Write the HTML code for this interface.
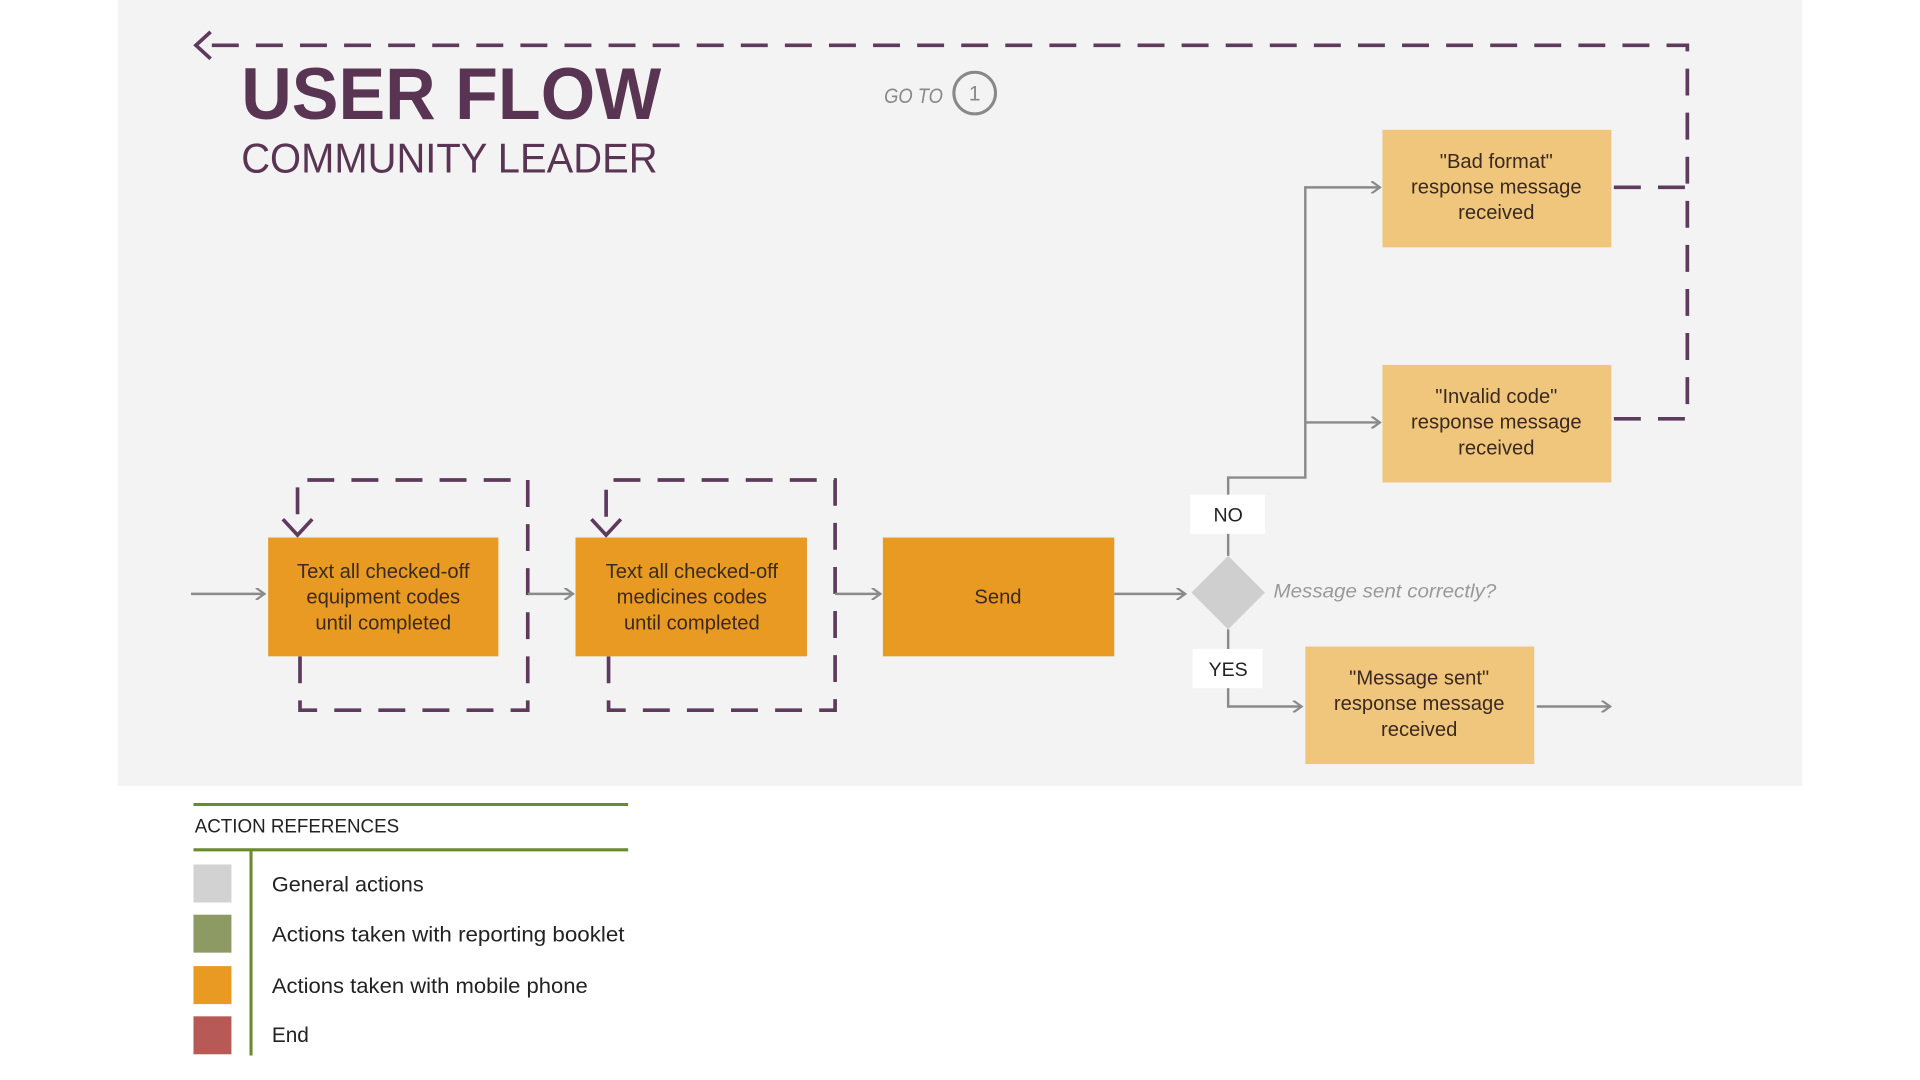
<!DOCTYPE html>
<html><head><meta charset="utf-8"><style>
html,body{margin:0;padding:0;background:#fff;}
svg{display:block;}
text{font-family:"Liberation Sans",sans-serif;}
</style></head><body>
<svg width="1920" height="1080" viewBox="0 0 1568 882" xmlns="http://www.w3.org/2000/svg">
<defs>
<marker id="ah" markerWidth="10" markerHeight="10" refX="8" refY="5" orient="auto" markerUnits="userSpaceOnUse">
<path d="M1,0 L8,5 L1,10" fill="none" stroke="#8a8a8a" stroke-width="1.8"/>
</marker>
</defs>
<rect x="0" y="0" width="1568" height="882" fill="#fff"/>
<rect x="96" y="0" width="1376" height="642" fill="#f4f3f4"/>

<g fill="none" stroke="#5e3b5c" stroke-width="3" stroke-dasharray="22,14">
<path d="M1318,342 L1378,342 L1378,37 L170,37"/>
<path d="M1318,153 L1378,153"/>
<path d="M245,536 L245,580 L431,580 L431,392 L243,392 L243,434"/>
<path d="M497,536 L497,580 L682,580 L682,392 L495,392 L495,434"/>
</g>
<g fill="none" stroke="#5e3b5c" stroke-width="3">
<path d="M172,26 L160,37 L172,48"/>
<path d="M231,424 L243,437 L255,424"/>
<path d="M483,424 L495,437 L507,424"/>
</g>

<text x="197" y="97" font-size="60" font-weight="bold" fill="#5a3553" textLength="343" lengthAdjust="spacingAndGlyphs">USER FLOW</text>
<text x="197" y="141" font-size="34" fill="#5a3553" textLength="340" lengthAdjust="spacingAndGlyphs">COMMUNITY LEADER</text>
<text x="722" y="84" font-size="17" font-style="italic" fill="#888" textLength="48" lengthAdjust="spacingAndGlyphs">GO TO</text>
<circle cx="796" cy="76" r="17" fill="none" stroke="#888" stroke-width="2.5"/>
<text x="796" y="82" font-size="17" fill="#888" text-anchor="middle">1</text>

<g fill="none" stroke="#8a8a8a" stroke-width="2">
<path d="M156,485 L216,485" marker-end="url(#ah)"/>
<path d="M431,485 L468,485" marker-end="url(#ah)"/>
<path d="M682,485 L719,485" marker-end="url(#ah)"/>
<path d="M910,485 L968,485" marker-end="url(#ah)"/>
<path d="M1003,454 L1003,390 L1066,390 L1066,153 L1127,153" marker-end="url(#ah)"/>
<path d="M1066,345 L1127,345" marker-end="url(#ah)"/>
<path d="M1003,514 L1003,577 L1063,577" marker-end="url(#ah)"/>
<path d="M1255,577 L1315,577" marker-end="url(#ah)"/>
</g>

<g font-size="16.5" fill="#3a2a20" text-anchor="middle">
<rect x="219" y="439" width="188" height="97" fill="#e89a22"/>
<text x="313" y="472">Text all checked-off</text>
<text x="313" y="493">equipment codes</text>
<text x="313" y="514">until completed</text>
<rect x="470" y="439" width="189" height="97" fill="#e89a22"/>
<text x="565" y="472">Text all checked-off</text>
<text x="565" y="493">medicines codes</text>
<text x="565" y="514">until completed</text>
<rect x="721" y="439" width="189" height="97" fill="#e89a22"/>
<text x="815" y="493">Send</text>
<rect x="1129" y="106" width="187" height="96" fill="#f0c67c"/>
<text x="1222" y="137">"Bad format"</text>
<text x="1222" y="158">response message</text>
<text x="1222" y="179">received</text>
<rect x="1129" y="298" width="187" height="96" fill="#f0c67c"/>
<text x="1222" y="329">"Invalid code"</text>
<text x="1222" y="350">response message</text>
<text x="1222" y="371">received</text>
<rect x="1066" y="528" width="187" height="96" fill="#f0c67c"/>
<text x="1159" y="559">"Message sent"</text>
<text x="1159" y="580">response message</text>
<text x="1159" y="601">received</text>
</g>
<polygon points="1003,454 1033,484 1003,514 973,484" fill="#d0cfcf"/>
<text x="1040" y="488" font-size="16" font-style="italic" fill="#999" textLength="182" lengthAdjust="spacingAndGlyphs">Message sent correctly?</text>
<rect x="972" y="404" width="61" height="32" fill="#fff"/>
<text x="1003" y="426" font-size="16" fill="#222" text-anchor="middle">NO</text>
<rect x="974" y="530" width="57" height="32" fill="#fff"/>
<text x="1003" y="552" font-size="16" fill="#222" text-anchor="middle">YES</text>

<line x1="158" y1="657" x2="513" y2="657" stroke="#6a8a2e" stroke-width="2.5"/>
<text x="159" y="680" font-size="16" fill="#222" textLength="167" lengthAdjust="spacingAndGlyphs">ACTION REFERENCES</text>
<line x1="158" y1="694" x2="513" y2="694" stroke="#6a8a2e" stroke-width="2.5"/>
<line x1="205" y1="694" x2="205" y2="862" stroke="#6a8a2e" stroke-width="2.5"/>
<rect x="158" y="706" width="31" height="31" fill="#d3d2d2"/>
<rect x="158" y="747" width="31" height="31" fill="#8e9a63"/>
<rect x="158" y="789" width="31" height="31" fill="#e89a22"/>
<rect x="158" y="830" width="31" height="31" fill="#b75a55"/>
<g font-size="17" fill="#222">
<text x="222" y="728" textLength="124" lengthAdjust="spacingAndGlyphs">General actions</text>
<text x="222" y="769" textLength="288" lengthAdjust="spacingAndGlyphs">Actions taken with reporting booklet</text>
<text x="222" y="811" textLength="258" lengthAdjust="spacingAndGlyphs">Actions taken with mobile phone</text>
<text x="222" y="851">End</text>
</g>
</svg>
</body></html>
